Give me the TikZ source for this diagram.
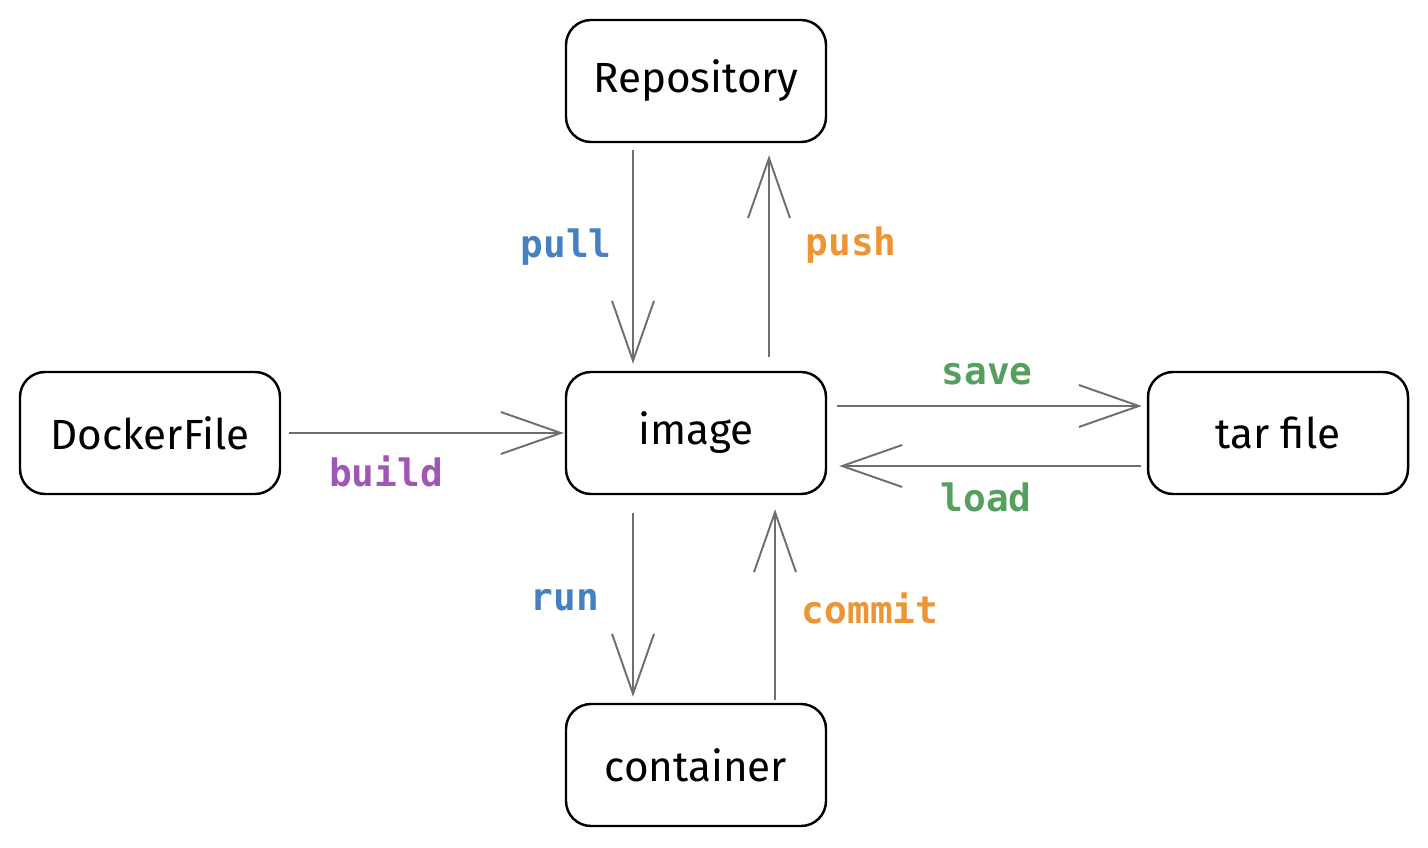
\documentclass[tikz,border=0pt]{standalone}
\usepackage{fontspec}
\setmainfont{Fira Sans}
\newfontfamily\labelfont{DejaVu Sans Mono}
\usetikzlibrary{arrows.meta}
\definecolor{pullblue}{HTML}{4581C0}
\definecolor{pushorange}{HTML}{EC9535}
\definecolor{buildpurple}{HTML}{A056B4}
\definecolor{savegreen}{HTML}{55A05F}
\definecolor{arrowgray}{HTML}{6E6E6E}
\begin{document}
\begin{tikzpicture}[
    box/.style={draw=black, line width=1.4pt, rounded corners=0.5cm, minimum width=5.2cm, minimum height=2.44cm, font=\fontsize{24}{28}\selectfont},
    flow/.style={draw=arrowgray, line width=1.1pt, -{Straight Barb[length=1.2cm, width=0.84cm, line width=1.1pt]}},
    lbl/.style={font=\labelfont\bfseries\fontsize{21.5}{24}\selectfont}
  ]
    \useasboundingbox (0,0) rectangle (28.56,16.94);
    % boxes (centres from the layout)
    \node[box] (repo) at (13.92,15.32) {Repository};
    \node[box] (dock) at (3.0,8.28) {DockerFile};
    \node[box] (img) at (13.92,8.28) {image};
    \node[box] (tar) at (25.56,8.28) {tar file};
    \node[box] (cont) at (13.92,1.64) {container};
    % repository <-> image
    \draw[flow, shorten <=0.14cm, shorten >=0.14cm] ([xshift=-1.26cm]repo.south) -- ([xshift=-1.26cm]img.north);
    \draw[flow, shorten <=0.28cm, shorten >=0.24cm] ([xshift=1.46cm]img.north) -- ([xshift=1.46cm]repo.south);
    % dockerfile -> image
    \draw[flow, shorten <=0.16cm, shorten >=0.02cm] (dock.east) -- (img.west);
    % image <-> tar file
    \draw[flow, shorten <=0.2cm, shorten >=0.1cm] ([yshift=0.54cm]img.east) -- ([yshift=0.54cm]tar.west);
    \draw[flow, shorten <=0.12cm, shorten >=0.24cm] ([yshift=-0.66cm]tar.west) -- ([yshift=-0.66cm]img.east);
    % image <-> container
    \draw[flow, shorten <=0.36cm, shorten >=0.12cm] ([xshift=-1.26cm]img.south) -- ([xshift=-1.26cm]cont.north);
    \draw[flow, shorten <=0.06cm, shorten >=0.28cm] ([xshift=1.58cm]cont.north) -- ([xshift=1.58cm]img.south);
    % labels
    \node[lbl, text=pullblue] (pulllbl) at (11.32,12.0) {pull};
    \node[lbl, text=pushorange] (pushlbl) at (17.02,12.04) {push};
    \node[lbl, text=buildpurple] (buildlbl) at (7.72,7.52) {build};
    \node[lbl, text=savegreen] (savelbl) at (19.74,9.46) {save};
    \node[lbl, text=savegreen] (loadlbl) at (19.72,7.0) {load};
    \node[lbl, text=pullblue] (runlbl) at (11.3,4.94) {run};
    \node[lbl, text=pushorange] (commitlbl) at (17.4,4.78) {commit};
\end{tikzpicture}
\end{document}
